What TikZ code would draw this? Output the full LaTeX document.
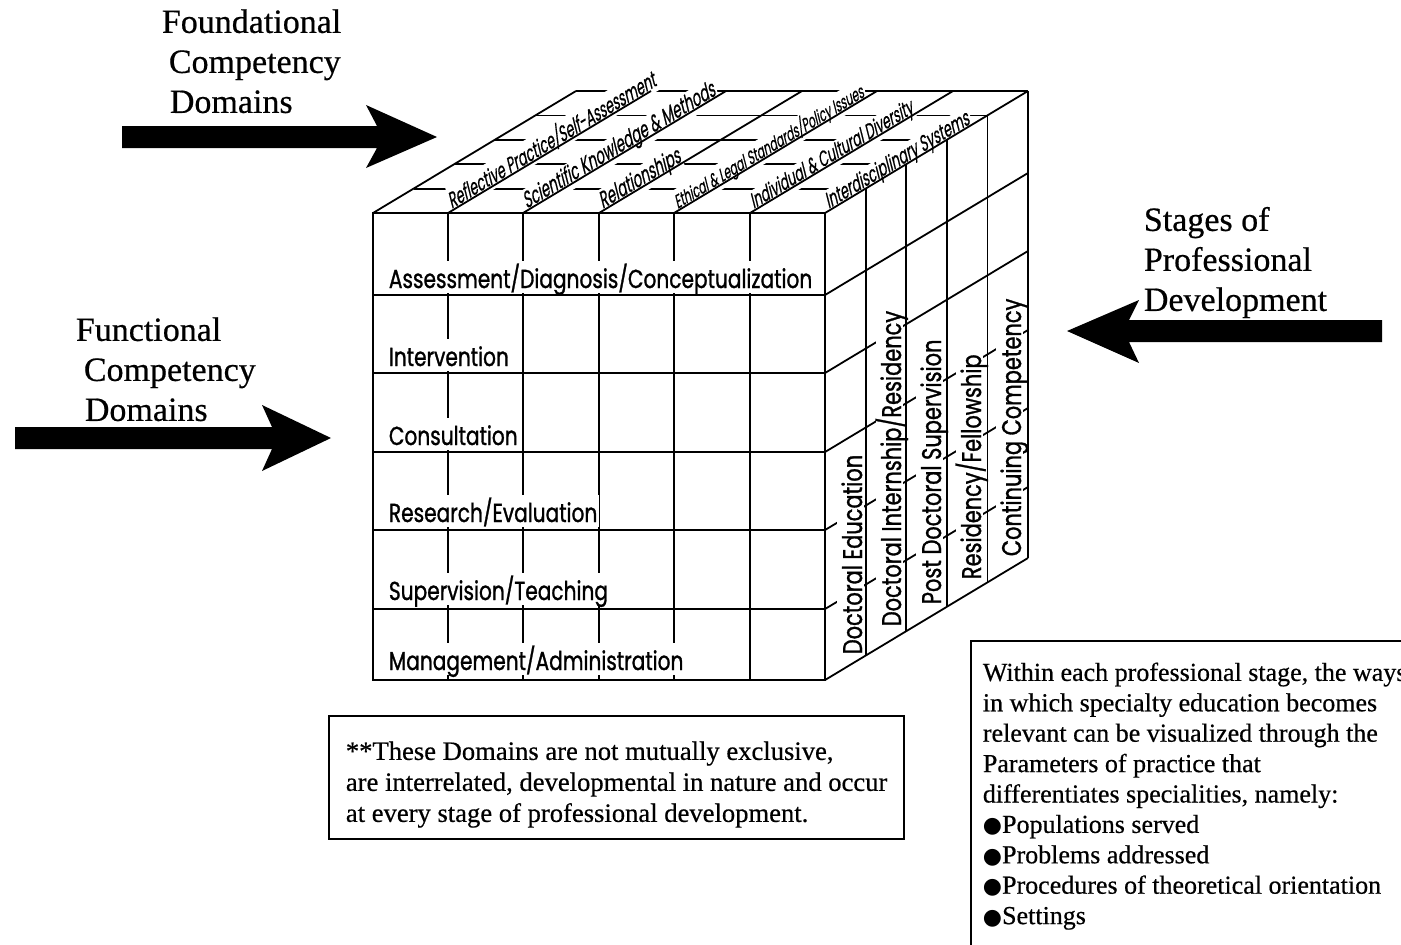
\documentclass[tikz,border=0pt]{standalone}
\usepackage{fontspec}
\setmainfont[FakeBold=0.5]{Liberation Serif}
\newfontfamily\cubefont[FakeStretch=0.775,FakeBold=1.1]{Poppins}
\newfontfamily\topfont[FakeStretch=0.62,FakeBold=0.6]{Poppins}
\newfontfamily\dotfont{DejaVu Sans}
\usetikzlibrary{calc}
\begin{document}
\begin{tikzpicture}[x=1bp,y=-1bp,line width=1.8bp,
  rowlab/.style={anchor=base west, fill=white, inner xsep=2bp, inner ysep=0pt,
     text height=27bp, text depth=5bp, font=\cubefont\fontsize{26bp}{30bp}\selectfont},
  stagelab/.style={rotate=90, anchor=base west, fill=white, inner xsep=2bp, inner ysep=0pt,
     text height=25bp, text depth=2bp, font=\cubefont\fontsize{27bp}{30bp}\selectfont},
  toplab/.style={rotate=31, xslant=0.3, anchor=base west, fill=white, inner sep=1.2bp,
     font=\topfont\fontsize{#1}{#1}\selectfont},
  heading/.style={anchor=north west, inner sep=0pt, align=left,
     font=\fontsize{34bp}{40bp}\selectfont},
  notetext/.style n args={2}{anchor=north west, inner sep=0pt, align=left,
     font=\fontsize{#1}{#2}\selectfont},
  notebox/.style={draw, line width=1.8bp, anchor=north west, inner sep=0pt},
  blockarrow/.style={fill=black}]
\clip (0,0) rectangle (1401,944);
\fill[white] (0,0) rectangle (1401,944);

% cube corners
\coordinate (ftl) at (373,213);
\coordinate (ftr) at (825,213);
\coordinate (fbl) at (373,680);
\coordinate (fbr) at (825,680);
\coordinate (btl) at (576,91);
\coordinate (btr) at (1028,91);
\coordinate (bbr) at (1028,558);

% lines lying under the labels
\foreach \x in {448,523,599,674,750} \draw (\x,213) -- (\x,680);
\foreach \y in {295,373,452,530,609} \draw (825,\y) -- ++(203,-122);
\foreach \k in {1,...,5} \draw ($(ftl)!\k/5!(btl)$) -- ($(ftr)!\k/5!(btr)$);

% functional competency domains (front face)
\node[rowlab] (fn1) at (386,288) {Assessment/Diagnosis/Conceptualization};
\node[rowlab] (fn2) at (386,366) {Intervention};
\node[rowlab] (fn3) at (386,445) {Consultation};
\node[rowlab] (fn4) at (386,522) {Research/Evaluation};
\node[rowlab] (fn5) at (386,600) {Supervision/Teaching};
\node[rowlab] (fn6) at (386,670) {Management/Administration};

% stages (right face)
\node[stagelab] (st1) at (862,657) {Doctoral Education};
\node[stagelab] (st2) at (901,629) {Doctoral Internship/Residency};
\node[stagelab] (st3) at (941,607) {Post Doctoral Supervision};
\node[stagelab] (st4) at (981,582) {Residency/Fellowship};
\node[stagelab] (st5) at (1021,559) {Continuing Competency};

% foundational domains (top face)
\node[toplab=21.5bp] (fd1) at (450,210) {Reflective Practice/Self-Assessment};
\node[toplab=22.5bp] (fd2) at (525,210) {Scientific Knowledge \& Methods};
\node[toplab=22.5bp] (fd3) at (601,210) {Relationships};
\node[toplab=18.2bp] (fd4) at (676,210) {Ethical \& Legal Standards/Policy Issues};
\node[toplab=20.8bp] (fd5) at (752,210) {Individual \& Cultural Diversity};
\node[toplab=21.5bp] (fd6) at (827,210) {Interdisciplinary Systems};

% lines lying over the labels
\foreach \y in {295,373,452,530,609} \draw (373,\y) -- (825,\y);
\draw (ftl) rectangle (fbr);
\foreach \k in {1,...,5} \draw ($(ftr)!\k/5!(btr)$) -- ($(fbr)!\k/5!(bbr)$);
\draw (fbr) -- (bbr);
\foreach \x in {373,448,523,599,674,750,825} \draw (\x,213) -- ++(203,-122);

% block arrows
\fill[blockarrow] (122,126) -- (377,126) -- (366,105) -- (437,137) -- (366,168) -- (377,148) -- (122,148) -- cycle;
\fill[blockarrow] (15,427) -- (272,427) -- (262,405) -- (331,438) -- (262,471) -- (272,449) -- (15,449) -- cycle;
\fill[blockarrow] (1382,320) -- (1129,320) -- (1139,300) -- (1067,331) -- (1139,363) -- (1129,342) -- (1382,342) -- cycle;

% headings
\node[heading] (h1) at (161,0) {\rule{0pt}{32bp}Foundational\\\hspace*{7bp}Competency\\\hspace*{8bp}Domains};
\node[heading] (h2) at (75,308) {\rule{0pt}{32bp}Functional\\\hspace*{8bp}Competency\\\hspace*{9bp}Domains};
\node[heading] (h3) at (1143,198) {\rule{0pt}{32bp}Stages of\\Professional\\Development};

% notes
\node[notebox, minimum width=575bp, minimum height=123bp] (note1) at (328,715) {};
\node[notetext={26.6bp}{31bp}] (note1txt) at (345,729) {\rule{0pt}{30bp}**These Domains are not mutually exclusive,\\are interrelated, developmental in nature and occur\\at every stage of professional development.};

\node[notebox, minimum width=470bp, minimum height=340bp] (note2) at (970,640) {};
\node[notetext={26bp}{30.4bp}] (note2txt) at (982,650) {\rule{0pt}{30bp}Within each professional stage, the ways\\in which specialty education becomes\\relevant can be visualized through the\\Parameters of practice that\\differentiates specialities, namely:\\{\dotfont\fontsize{22bp}{30.4bp}\selectfont ●}Populations served\\{\dotfont\fontsize{22bp}{30.4bp}\selectfont ●}Problems addressed\\{\dotfont\fontsize{22bp}{30.4bp}\selectfont ●}Procedures of theoretical orientation\\{\dotfont\fontsize{22bp}{30.4bp}\selectfont ●}Settings};
\end{tikzpicture}
\end{document}
